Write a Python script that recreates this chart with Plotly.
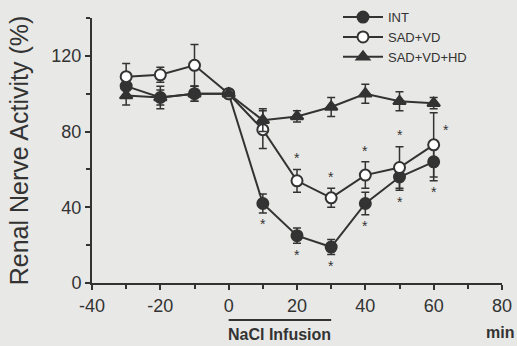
import plotly.graph_objects as go

time = [-30, -20, -10, 0, 10, 20, 30, 40, 50, 60]

int_vals = [104, 98, 100, 100, 42, 25, 19, 42, 56, 64]
int_err = [5, 6, 4, 0, 5, 4, 4, 6, 7, 10]

sadvd_vals = [109, 110, 115, 100, 81, 54, 45, 57, 61, 73]
sadvd_err = [7, 4, 11, 0, 10, 6, 5, 7, 11, 17]

hd_vals = [99, 98, 100, 100, 86, 88, 93, 100, 96, 95]
hd_err = [5, 4, 4, 0, 6, 3, 5, 5, 5, 3]

# significance marks: indices into time
int_star_idx = [4, 5, 6, 7, 8, 9]
sadvd_star_idx = [5, 6, 7, 8, 9]

x_ticks = [-40, -20, 0, 20, 40, 60, 80]
x_tick_labels = ["-40", "-20", "0", "20", "40", "60", "80"]
y_ticks = [0, 40, 80, 120]

infusion_start, infusion_end = 0, 30

ink = "#333333"
bg = "#e8e8e6"
fam = "Liberation Sans, Arial"

fig = go.Figure()

def add_series(name, vals, err, symbol, fill):
    fig.add_trace(go.Scatter(
        x=time, y=vals, name=name, mode="lines+markers",
        line=dict(color=ink, width=2),
        marker=dict(symbol=symbol, size=11, color=fill, line=dict(color=ink, width=2)),
        error_y=dict(type="data", array=err, color=ink, thickness=1.5, width=4),
    ))

add_series("INT", int_vals, int_err, "circle", ink)
add_series("SAD+VD", sadvd_vals, sadvd_err, "circle", "white")
add_series("SAD+VD+HD", hd_vals, hd_err, "triangle-up", ink)

annotations = []
for i in int_star_idx:
    annotations.append(dict(x=time[i], y=int_vals[i] - int_err[i] - 6, text="*",
                            showarrow=False, font=dict(size=14, color=ink), xref="x", yref="y"))
for i in sadvd_star_idx:
    if i == len(time) - 1:
        annotations.append(dict(x=time[i] + 3.5, y=sadvd_vals[i] + 8, text="*",
                                showarrow=False, font=dict(size=14, color=ink), xref="x", yref="y"))
    else:
        annotations.append(dict(x=time[i], y=sadvd_vals[i] + sadvd_err[i] + 6, text="*",
                                showarrow=False, font=dict(size=14, color=ink), xref="x", yref="y"))

annotations.append(dict(x=(infusion_start + infusion_end) / 2, y=-0.155, xref="x", yref="paper",
                        text="<b>NaCl Infusion</b>", showarrow=False, yanchor="top",
                        font=dict(size=16, color=ink, family=fam)))
annotations.append(dict(x=1.035, y=-0.148, xref="paper", yref="paper", text="<b>min</b>",
                        showarrow=False, xanchor="right", yanchor="top",
                        font=dict(size=16, color=ink, family=fam)))

fig.add_shape(type="line", xref="x", yref="paper", x0=infusion_start, x1=infusion_end,
              y0=-0.14, y1=-0.14, line=dict(color=ink, width=2))

fig.update_layout(
    width=517, height=346,
    margin=dict(l=92, r=15, t=18, b=63, autoexpand=False),
    paper_bgcolor=bg, plot_bgcolor=bg,
    font=dict(family=fam, color=ink),
    annotations=annotations,
    showlegend=True,
    legend=dict(x=0.6, y=1.06, xanchor="left", yanchor="top",
                bgcolor="rgba(0,0,0,0)", font=dict(size=13, color=ink),
                tracegroupgap=0, itemwidth=40),
    xaxis=dict(range=[-40, 80], tickvals=x_ticks, ticktext=x_tick_labels,
               ticks="outside", ticklen=5,
               tickwidth=2, tickcolor=ink, showline=True, linecolor=ink, linewidth=2,
               showgrid=False, zeroline=False,
               tickfont=dict(size=18, color=ink, family=fam),
               minor=dict(dtick=10, ticks="outside", ticklen=4, tickwidth=1.5, tickcolor=ink)),
    yaxis=dict(range=[0, 140], tickvals=y_ticks, ticks="outside", ticklen=5,
               tickwidth=2, tickcolor=ink, showline=True, linecolor=ink, linewidth=2,
               showgrid=False, zeroline=False,
               tickfont=dict(size=18, color=ink, family=fam),
               title=dict(text="Renal Nerve Activity (%)", font=dict(size=25, color=ink), standoff=16),
               minor=dict(dtick=20, ticks="outside", ticklen=4, tickwidth=1.5, tickcolor=ink)),
)

fig.write_html("out.html", config={"displayModeBar": False},
               post_script="document.body.style.margin='0';")
